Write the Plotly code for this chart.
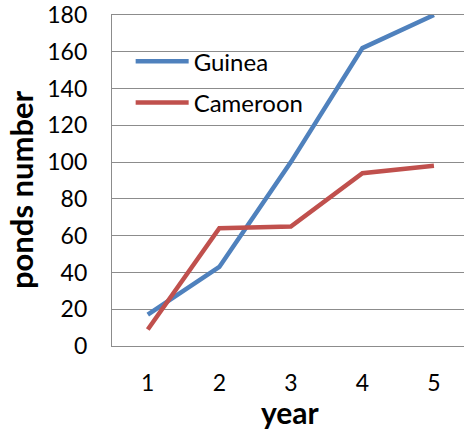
import plotly.graph_objects as go

years = [1, 2, 3, 4, 5]
guinea = [17, 43, 100, 162, 180]
cameroon = [9, 64, 65, 94, 98]
y_ticks = [0, 20, 40, 60, 80, 100, 120, 140, 160, 180]

FONT = "Lato"
BLUE = "#4F81BD"
RED = "#C0504D"
GRID = "#8C8C8C"

fig = go.Figure()
fig.add_trace(go.Scatter(x=years, y=guinea, mode="lines", name="Guinea",
                         legendgroup="g", line=dict(color=BLUE, width=4.5)))
fig.add_trace(go.Scatter(x=years, y=cameroon, mode="lines", name="Cameroon",
                         legendgroup="c", line=dict(color=RED, width=4.5)))

fig.update_layout(
    width=464, height=436,
    margin=dict(l=112, r=0, t=15, b=90, autoexpand=False),
    paper_bgcolor="white", plot_bgcolor="white",
    font=dict(family=FONT, size=23, color="black"),
    showlegend=True,
    legend=dict(x=0.053, y=0.927, xanchor="left", yanchor="top",
                bgcolor="rgba(0,0,0,0)", font=dict(size=24, family=FONT),
                tracegroupgap=7, itemwidth=53),
    xaxis=dict(range=[0.5, 5.42], tickvals=years, ticktext=[str(v) for v in years],
               showgrid=False, zeroline=False, showline=True, mirror=True,
               linecolor=GRID, linewidth=1.3, ticks="", ticklabelstandoff=16,
               automargin=False),
    yaxis=dict(range=[0, 180], tickvals=y_ticks, showgrid=True, gridcolor=GRID,
               gridwidth=1.3, zeroline=False, showline=True, linecolor=GRID,
               linewidth=1.3, ticks="", ticklabelstandoff=19, automargin=False,
               ticklabeloverflow="allow"),
    annotations=[
        dict(text="<b>ponds number</b>", xref="paper", yref="paper",
             x=-0.2585, y=0.471, xanchor="center", yanchor="middle",
             textangle=-90, showarrow=False, font=dict(size=31, family=FONT)),
        dict(text="<b>year</b>", xref="paper", yref="paper",
             x=0.5057, y=-0.198, xanchor="center", yanchor="middle",
             showarrow=False, font=dict(size=30, family=FONT)),
    ],
)

fig.write_html("out.html", config={"displayModeBar": False},
               post_script="document.body.style.margin='0';")
